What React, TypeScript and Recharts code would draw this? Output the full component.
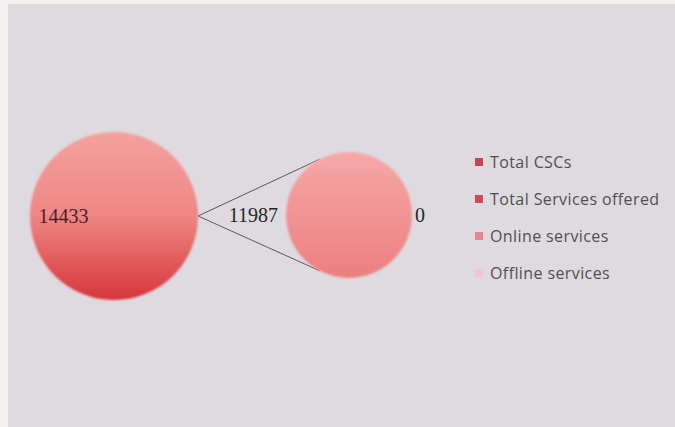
import React from 'react';
import { PieChart, Pie, Cell, Legend, Customized } from 'recharts';

const categories = ['Total CSCs', 'Total Services offered', 'Online services', 'Offline services'];
const legendColors = ['#c9464c', '#cf4a54', '#e8848f', '#f3c4ca'];

const mainNames = ['Total CSCs', 'Other'];
const mainValues = [14433, 0];
const subNames = ['Online services', 'Offline services'];
const subValues = [11987, 0];

const mainData = mainNames.map((name, i) => ({ name, value: mainValues[i] }));
const subData = subNames.map((name, i) => ({ name, value: subValues[i] }));

const W = 675;
const H = 427;
const MAIN = { cx: 114, cy: 216, r: 84 };
const SUB = { cx: 349, cy: 215, r: 63 };
const SERIES_ANGLE = 118;
const RAD = Math.PI / 180;

const mainLabel = (p: any) => {
  const r = p.outerRadius * 0.6;
  const x = p.cx + r * Math.cos(-p.midAngle * RAD);
  const y = p.cy + r * Math.sin(-p.midAngle * RAD);
  if (!p.value) return null;
  return (
    <text x={x} y={y} textAnchor="middle" dominantBaseline="central" fill="#4a1e20"
      style={{ fontFamily: 'Liberation Serif', fontSize: 20 }}>{p.value}</text>
  );
};

const subLabel = (p: any) => {
  const c = Math.cos(-p.midAngle * RAD);
  const off = c > 0 ? 3 : 8;
  const x = p.cx + (p.outerRadius + off) * c;
  const y = p.cy + (p.outerRadius + off) * Math.sin(-p.midAngle * RAD);
  return (
    <text x={x} y={y} textAnchor={c > 0 ? 'start' : 'end'} dominantBaseline="central" fill="#262626"
      style={{ fontFamily: 'Liberation Serif', fontSize: 20 }}>{p.value}</text>
  );
};

const SeriesLines = () => {
  const sx = MAIN.cx + MAIN.r;
  const sy = MAIN.cy;
  const t = { x: SUB.cx + SUB.r * Math.cos(SERIES_ANGLE * RAD), y: SUB.cy - SUB.r * Math.sin(SERIES_ANGLE * RAD) };
  const b = { x: SUB.cx + SUB.r * Math.cos(SERIES_ANGLE * RAD), y: SUB.cy + SUB.r * Math.sin(SERIES_ANGLE * RAD) };
  return (
    <g>
      <line x1={MAIN.cx + MAIN.r * 0.38} y1={sy} x2={sx - 1} y2={sy} stroke="#fbd6d2" strokeOpacity={0.8} strokeWidth={1} />
      <line x1={sx} y1={sy} x2={t.x} y2={t.y} stroke="#5a5a5a" strokeWidth={1} />
      <line x1={sx} y1={sy} x2={b.x} y2={b.y} stroke="#5a5a5a" strokeWidth={1} />
    </g>
  );
};

const LegendContent = () => (
  <div style={{ fontFamily: '"Open Sans", sans-serif', fontSize: 16, color: '#505050' }}>
    {categories.map((c, i) => (
      <div key={c} style={{ display: 'flex', alignItems: 'center', height: 37, whiteSpace: 'nowrap' }}>
        <span style={{ display: 'inline-block', width: 8, height: 8, background: legendColors[i], marginRight: 7 }} />
        <span style={{ letterSpacing: 0.4 }}>{c}</span>
      </div>
    ))}
  </div>
);

export default function App() {
  return (
    <div style={{ position: 'absolute', left: 0, top: 0, width: W, height: H, background: '#f3f1ef', overflow: 'hidden' }}>
      <div style={{ position: 'absolute', left: 8, top: 4, width: W - 8, height: H - 4, background: '#dedadf' }} />
      <div style={{ position: 'absolute', left: 0, top: 0 }}>
        <PieChart width={W} height={H} margin={{ top: 0, right: 0, bottom: 0, left: 0 }}>
          <defs>
            <linearGradient id="gMain" x1="0" y1="0" x2="0" y2="1">
              <stop offset="0%" stopColor="#f4a29e" />
              <stop offset="50%" stopColor="#ee8684" />
              <stop offset="100%" stopColor="#d6363b" />
            </linearGradient>
            <linearGradient id="gSub" x1="0" y1="0" x2="0" y2="1">
              <stop offset="0%" stopColor="#f7a8a8" />
              <stop offset="100%" stopColor="#ec7f80" />
            </linearGradient>
            <filter id="soft" x="-10%" y="-10%" width="120%" height="120%">
              <feGaussianBlur stdDeviation="0.9" />
            </filter>
          </defs>
          <Pie data={mainData} dataKey="value" nameKey="name" cx={MAIN.cx} cy={MAIN.cy} outerRadius={MAIN.r}
            startAngle={0} endAngle={360} stroke="none" label={mainLabel} labelLine={false} isAnimationActive={false}>
            {mainData.map((d) => <Cell key={d.name} fill="url(#gMain)" filter="url(#soft)" />)}
          </Pie>
          <Pie data={subData} dataKey="value" nameKey="name" cx={SUB.cx} cy={SUB.cy} outerRadius={SUB.r}
            startAngle={0} endAngle={360} stroke="none" label={subLabel} labelLine={false} isAnimationActive={false}>
            {subData.map((d) => <Cell key={d.name} fill="url(#gSub)" filter="url(#soft)" />)}
          </Pie>
          <Customized component={SeriesLines} />
          <Legend layout="vertical" content={LegendContent} wrapperStyle={{ position: 'absolute', left: 475, top: 143, width: 200 }} />
        </PieChart>
      </div>
    </div>
  );
}
